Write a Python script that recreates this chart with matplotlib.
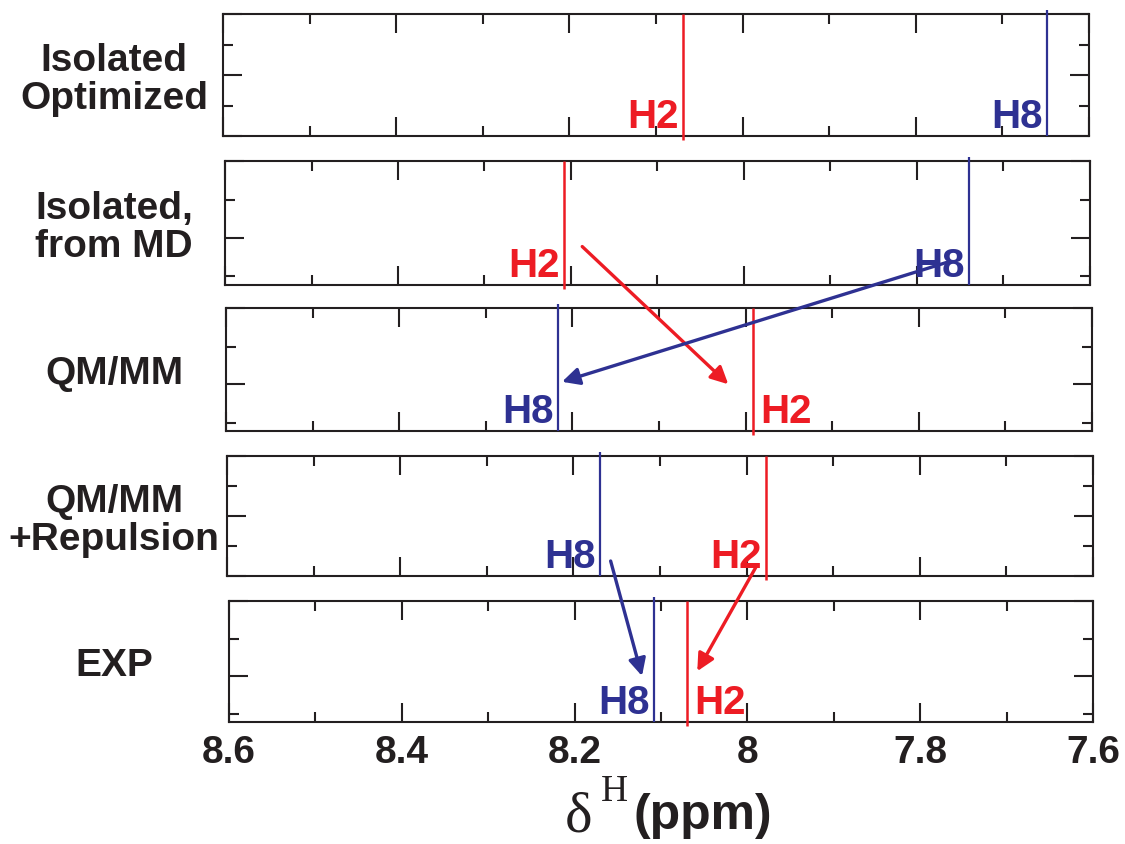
import matplotlib
matplotlib.use('Agg')
import matplotlib.pyplot as plt
from matplotlib import ticker
from matplotlib.patches import ConnectionPatch

# Computed / measured proton shifts (ppm) for the two aromatic protons
methods = ['Isolated\nOptimized', 'Isolated,\nfrom MD', 'QM/MM', 'QM/MM\n+Repulsion', 'EXP']
h2_shift = [8.069, 8.208, 7.991, 7.978, 8.070]
h8_shift = [7.649, 7.740, 8.217, 8.169, 8.108]
h2_label_side = ['left', 'left', 'right', 'left', 'right']
x_ticks = [8.6, 8.4, 8.2, 8.0, 7.8, 7.6]

# Arrows showing how each shift moves between methods: (panel, ppm, height)
h2_moves = [((1, 8.187, 0.31), (2, 8.020, 0.38)),
            ((3, 7.988, 0.09), (4, 8.058, 0.42))]
h8_moves = [((1, 7.762, 0.19), (2, 8.212, 0.40)),
            ((3, 8.157, 0.125), (4, 8.122, 0.38))]

RED = '#ED1C24'
BLUE = '#2E3192'
INK = '#231F20'
SANS = ['Liberation Sans', 'DejaVu Sans']
SERIF = ['Liberation Serif', 'DejaVu Serif']

W, H = 1125, 845
# panel boxes in pixels: left, right, top, bottom
boxes = [(223, 1089, 15, 137),
         (225, 1090, 162, 286),
         (226, 1092, 309, 432),
         (227, 1093, 457, 577),
         (229, 1093, 602, 723)]
# y tick layouts (axes fraction): (major, minor)
layout_a = ([0.0, 0.5, 1.0], [0.25, 0.75])
layout_b = ([0.379, 1.0], [0.069, 0.686])
y_layouts = [layout_a, layout_b, layout_b, layout_a, layout_b]

fig = plt.figure(figsize=(W / 100, H / 100), dpi=100)

axes = []
for i, (l, r, t, b) in enumerate(boxes):
    ax = fig.add_axes([l / W, 1 - b / H, (r - l) / W, (b - t) / H])
    ax.set_xlim(8.6, 7.6)
    ax.set_ylim(0, 1)
    ax.xaxis.set_major_locator(ticker.FixedLocator(x_ticks))
    ax.xaxis.set_minor_locator(ticker.MultipleLocator(0.1))
    ax.xaxis.set_major_formatter(ticker.FuncFormatter(lambda v, _: f'{v:g}'))
    major, minor = y_layouts[i]
    ax.yaxis.set_major_locator(ticker.FixedLocator(major))
    ax.yaxis.set_minor_locator(ticker.FixedLocator(minor))
    ax.tick_params(which='both', direction='in', top=True, right=True,
                   width=1.5, color=INK, labelleft=False,
                   labelbottom=(i == len(boxes) - 1))
    ax.tick_params(which='major', length=13.5, pad=9)
    ax.tick_params(which='minor', length=7)
    for s in ax.spines.values():
        s.set_linewidth(1.5)
        s.set_color(INK)
    for lab in ax.get_xticklabels():
        lab.set_fontfamily(SANS)
        lab.set_fontweight('bold')
        lab.set_fontsize(28)
        lab.set_color(INK)

    # stick spectrum lines
    ax.vlines(h2_shift[i], -0.03, 1.0, color=RED, lw=1.8, clip_on=False, zorder=3)
    ax.vlines(h8_shift[i], 0.0, 1.03, color=BLUE, lw=1.6, clip_on=False, zorder=3)

    if h2_label_side[i] == 'left':
        off, ha = (-3, 0), 'right'
    else:
        off, ha = (5, 0), 'left'
    ax.annotate('H2', (h2_shift[i], 0.075), xytext=off, textcoords='offset points',
                ha=ha, va='baseline', color=RED, fontsize=29, fontweight='bold',
                family=SANS, annotation_clip=False)
    ax.annotate('H8', (h8_shift[i], 0.075), xytext=(-3, 0), textcoords='offset points',
                ha='right', va='baseline', color=BLUE, fontsize=29, fontweight='bold',
                family=SANS, annotation_clip=False)

    # method name on the left
    fig.text(114 / W, 1 - ((t + b) / 2 + 4) / H, methods[i], ha='center', va='center',
             fontsize=28, fontweight='bold', family=SANS, color=INK,
             linespacing=1.07, multialignment='center')
    axes.append(ax)

for moves, color in [(h2_moves, RED), (h8_moves, BLUE)]:
    for (pa, xa, ya), (pb, xb, yb) in moves:
        arrow = ConnectionPatch((xa, ya), (xb, yb),
                                coordsA=axes[pa].transData, coordsB=axes[pb].transData,
                                arrowstyle='-|>', mutation_scale=26, lw=2.4,
                                color=color, shrinkA=0, shrinkB=0, zorder=5)
        fig.add_artist(arrow)

# axis title: delta^H (ppm)
fig.text(565 / W, 1 - 832 / H, '\u03b4', family=SERIF, fontsize=42, color=INK,
         ha='left', va='baseline')
fig.text(601 / W, 1 - 801 / H, 'H', family=SERIF, fontsize=27, color=INK,
         ha='left', va='baseline')
fig.text(633 / W, 1 - 829 / H, '(ppm)', family=SANS, fontsize=36, fontweight='bold',
         color=INK, ha='left', va='baseline')

fig.savefig('out.png', dpi=100)
